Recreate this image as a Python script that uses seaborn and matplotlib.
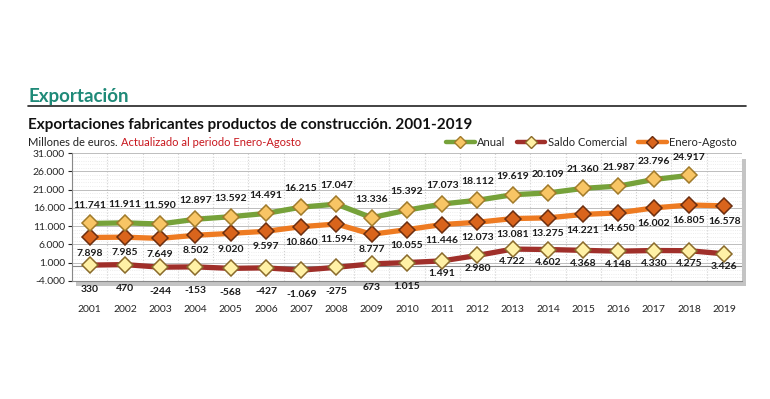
import numpy as np
import pandas as pd
import matplotlib
matplotlib.use("Agg")
import matplotlib.pyplot as plt
from matplotlib.lines import Line2D
import seaborn as sns

sns.set_style("white")
plt.rcParams['font.family'] = ['Lato', 'DejaVu Sans']

years = [str(y) for y in range(2001, 2020)]
anual = [11741, 11911, 11590, 12897, 13592, 14491, 16215, 17047, 13336, 15392,
         17073, 18112, 19619, 20109, 21360, 21987, 23796, 24917, np.nan]
enero_agosto = [7898, 7985, 7649, 8502, 9020, 9597, 10860, 11594, 8777, 10055,
                11446, 12073, 13081, 13275, 14221, 14650, 16002, 16805, 16578]
saldo = [330, 470, -244, -153, -568, -427, -1069, -275, 673, 1015,
         1491, 2980, 4722, 4602, 4368, 4148, 4330, 4275, 3426]

series_names = ["Anual", "Saldo Comercial", "Enero-Agosto"]
line_colors = {"Anual": "#76a23a", "Saldo Comercial": "#a02f2a", "Enero-Agosto": "#ee7b22"}
marker_faces = {"Anual": "#f8c565", "Saldo Comercial": "#fff1a6", "Enero-Agosto": "#d9641c"}
marker_edges = {"Anual": "#a07a2a", "Saldo Comercial": "#8a6a2a", "Enero-Agosto": "#6b2e10"}

df = pd.DataFrame({
    "pos": list(range(len(years))) * 3,
    "valor": anual + saldo + enero_agosto,
    "serie": ["Anual"] * len(years) + ["Saldo Comercial"] * len(years) + ["Enero-Agosto"] * len(years),
})

def fmt(v):
    return f"{int(v):,}".replace(",", ".")

fig = plt.figure(figsize=(7.7, 3.99), dpi=100)
rect = [0.0935, 0.296, 0.87, 0.32]

# shadow behind plot area
shadow = fig.add_axes([rect[0] + 0.005, rect[1] - 0.014, rect[2], rect[3]], zorder=0)
shadow.set_facecolor("#c4c4c4")
shadow.set_xticks([])
shadow.set_yticks([])
for s in shadow.spines.values():
    s.set_visible(False)

ax = fig.add_axes(rect, zorder=1)
ax.set_facecolor("white")

for name in ["Enero-Agosto", "Saldo Comercial", "Anual"]:
    sub = df[df["serie"] == name].dropna()
    sns.lineplot(data=sub, x="pos", y="valor", ax=ax, color=line_colors[name],
                 linewidth=3.8, marker="D", markersize=8.5,
                 markerfacecolor=marker_faces[name], markeredgecolor=marker_edges[name],
                 markeredgewidth=1.1, zorder=3)

lab_kw = dict(ha="center", fontsize=7.5, fontweight="bold", color="#1a1a1a", zorder=5,
              annotation_clip=False)
for i in range(len(years)):
    if not np.isnan(anual[i]):
        ax.annotate(fmt(anual[i]), (i, anual[i]), xytext=(0, 10), textcoords="offset points",
                    va="bottom", **lab_kw)
    ax.annotate(fmt(enero_agosto[i]), (i, enero_agosto[i]), xytext=(0, -8),
                textcoords="offset points", va="top", **lab_kw)
    off = -14 if i < 10 else -6
    ax.annotate(fmt(saldo[i]), (i, saldo[i]), xytext=(0, off),
                textcoords="offset points", va="top", **lab_kw)

ax.set_xlim(-0.5, len(years) - 0.5)
ax.set_ylim(-4000, 31000)
ax.set_yticks(range(-4000, 31001, 5000))
ax.set_yticklabels([fmt(v) for v in range(-4000, 31001, 5000)], fontsize=7.5)
ax.set_xticks(range(len(years)))
ax.set_xticklabels(years, fontsize=7.5)
ax.tick_params(axis="x", length=0, pad=17)
ax.tick_params(axis="y", length=3, pad=2, left=True)
ax.set_xticks(np.arange(-0.5, len(years), 1), minor=True)
ax.set_yticks(range(-4000, 31001, 1000), minor=True)
ax.tick_params(which="minor", length=0)
ax.grid(which="minor", axis="x", color="#cfcfcf", linestyle=":", linewidth=0.8)
ax.grid(which="minor", axis="y", color="#e6e6e6", linestyle=":", linewidth=0.6)
ax.grid(which="major", axis="y", color="#bdbdbd", linestyle="-", linewidth=0.7)
ax.set_axisbelow(True)
ax.set_xlabel("")
ax.set_ylabel("")
for s in ["top", "right"]:
    ax.spines[s].set_visible(False)
ax.spines["left"].set_color("#888888")
ax.spines["bottom"].set_color("#888888")
ax.axhline(0, color="#888888", linewidth=0.8, zorder=1)

handles = [Line2D([0], [0], color=line_colors[n], linewidth=3.2, marker="D", markersize=6,
                  markerfacecolor=marker_faces[n], markeredgecolor=marker_edges[n])
           for n in series_names]
fig.legend(handles, series_names, loc="center right", bbox_to_anchor=(0.97, 0.643), ncol=3,
           frameon=False, fontsize=8, handlelength=2.6, columnspacing=1.0, handletextpad=0.2)

fig.text(0.037, 0.757, "Exportación", fontsize=13.5, fontweight="bold", color="#1f8a78",
         va="center")
fig.add_artist(Line2D([0.036, 0.969], [0.734, 0.734], transform=fig.transFigure,
                      color="#222222", linewidth=1.2))
fig.text(0.037, 0.687, "Exportaciones fabricantes productos de construcción. 2001-2019",
         fontsize=11, fontweight="bold", color="#111111", va="center")
t1 = fig.text(0.037, 0.644, "Millones de euros. ", fontsize=8, color="#222222", va="center")
fig.canvas.draw()
bb = t1.get_window_extent().transformed(fig.transFigure.inverted())
fig.text(bb.x1, 0.644, "Actualizado al periodo Enero-Agosto", fontsize=8, color="#c8161d",
         va="center")

fig.savefig("out.png", dpi=100, facecolor="white")
